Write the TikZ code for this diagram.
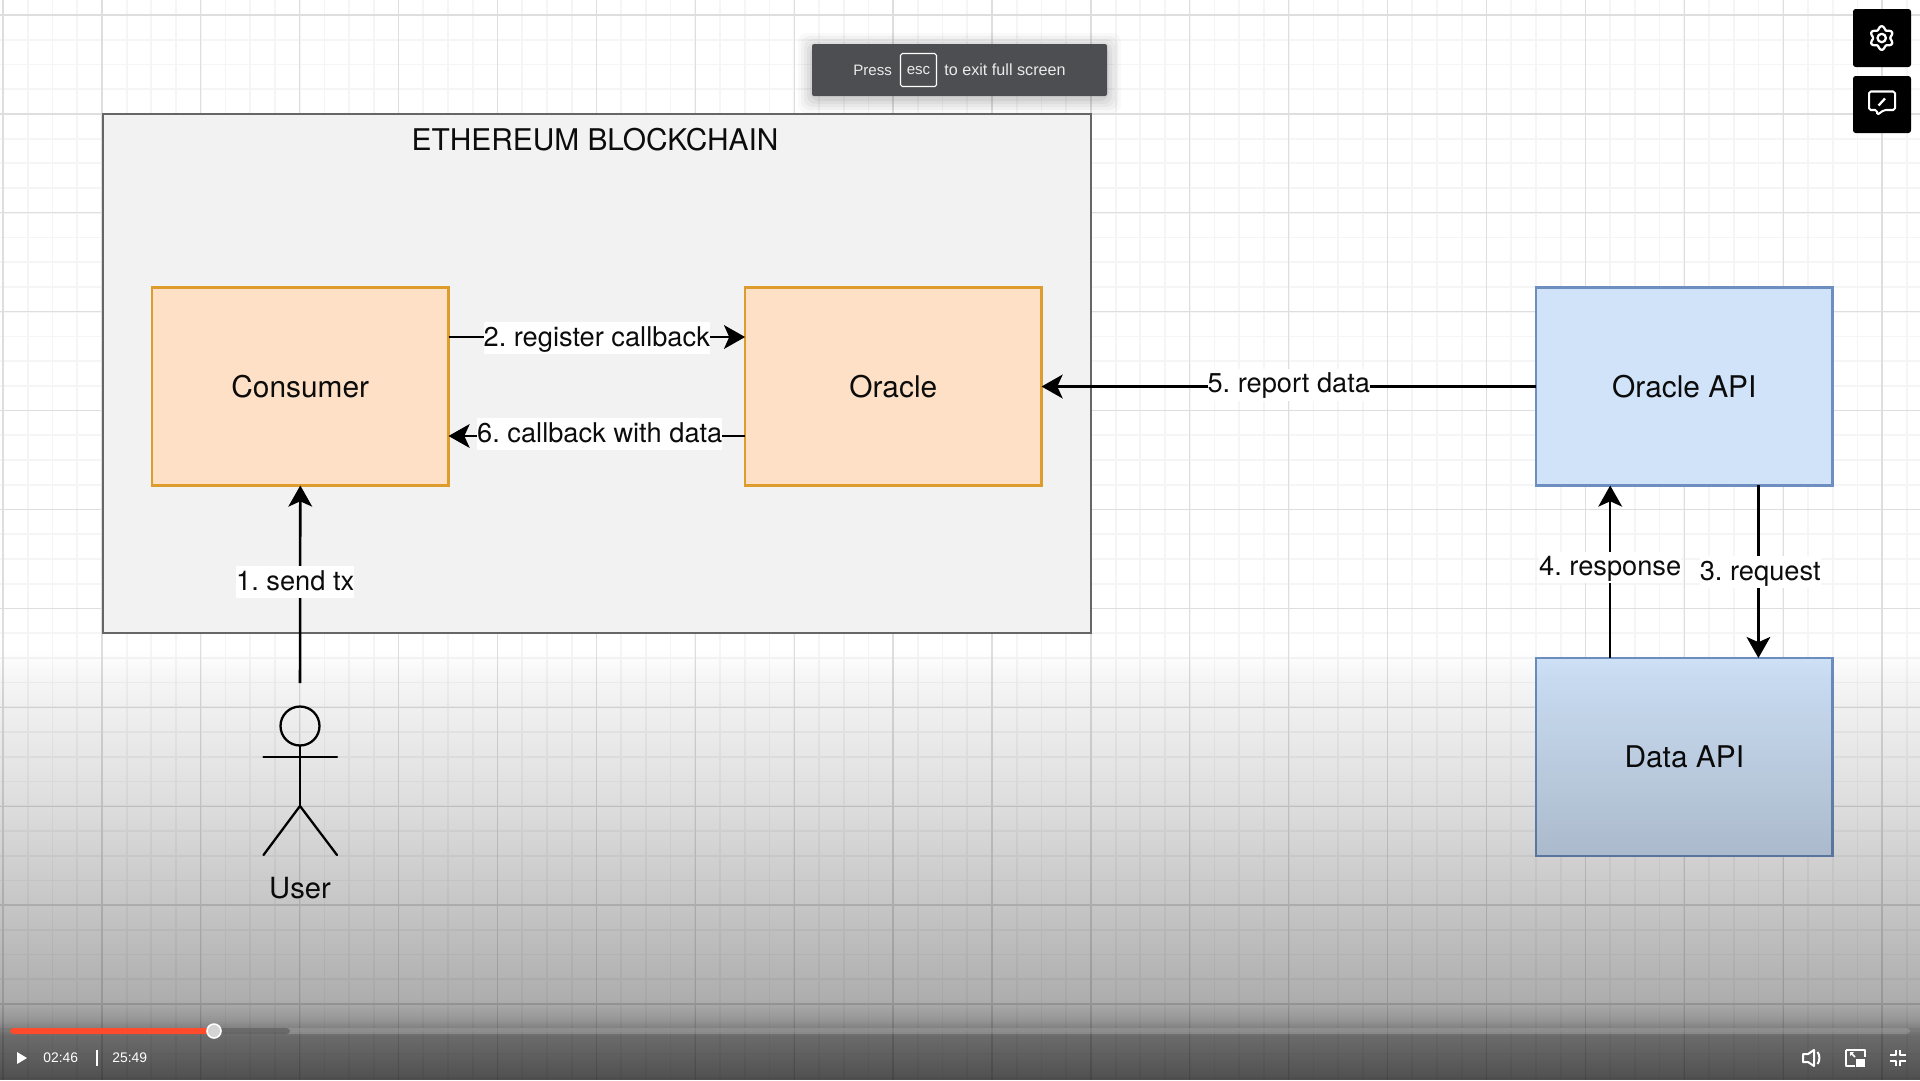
\documentclass[tikz,border=0pt]{standalone}
\usepackage{fontspec}
\setmainfont{TeX Gyre Heros}
\newfontfamily\uifont{Liberation Sans}
\usetikzlibrary{arrows.meta,calc}
\definecolor{gridminor}{HTML}{F5F5F5}
\definecolor{gridmajor}{HTML}{DEDEDE}
\definecolor{chainfill}{HTML}{F2F2F2}
\definecolor{chainline}{HTML}{666666}
\definecolor{orfill}{HTML}{FDE0C5}
\definecolor{orline}{HTML}{DD9C2C}
\definecolor{blfill}{HTML}{D0E3F9}
\definecolor{blline}{HTML}{6D8FC0}
\definecolor{toastfill}{HTML}{484A4D}
\definecolor{redbar}{HTML}{FF4A2B}
\definecolor{inktext}{HTML}{0C0C0C}
\frenchspacing
\tikzset{
  x=0.02cm,y=-0.02cm,
  box/.style={draw,line width=1.5pt,minimum width=5.93cm,minimum height=3.96cm,inner sep=0pt,outer sep=0pt,text=inktext,font=\fontsize{17}{20}\selectfont},
  boxtext/.style={inner sep=0pt,text=inktext,font=\fontsize{17}{20}\selectfont},
  orbox/.style={box,fill=orfill,draw=orline},
  blbox/.style={box,fill=blfill,draw=blline},
  conn/.style={line width=1.45pt,black,-{Stealth[length=12pt,width=13.5pt,inset=3pt]}},
  edgelabel/.style={fill=white,inner sep=0pt,text height=13.6pt,text depth=4.5pt,text=inktext,font=\fontsize{15.5}{18}\selectfont},
  stick/.style={line width=1.3pt,black,line cap=round},
  ctrl/.style={text=white,font=\uifont\fontsize{7.9}{9}\selectfont,inner sep=0pt},
  toasttext/.style={inner sep=0pt,text=white!92!black,font=\uifont\fontsize{8.6}{10}\selectfont},
  icon/.style={draw=white,line width=1.15pt,line join=round},
  iconbox/.style={fill=black,rounded corners=1.5pt},
}
\begin{document}
\begin{tikzpicture}
\useasboundingbox (0,0) rectangle (1920,1080);
\fill[white] (0,0) rectangle (1920,1080);
% minor grid
\foreach \i in {0,...,78}{
  \pgfmathsetmacro\gx{3+24.725*\i}
  \draw[gridminor,line width=1pt] (\gx,0) -- (\gx,1080);
}
\foreach \i in {0,...,44}{
  \pgfmathsetmacro\gy{15+24.725*\i}
  \draw[gridminor,line width=1pt] (0,\gy) -- (1920,\gy);
}
% major grid
\foreach \i in {0,...,19}{
  \pgfmathsetmacro\gx{3+98.9*\i}
  \draw[gridmajor,line width=.75pt] (\gx,0) -- (\gx,1080);
}
\foreach \i in {0,...,10}{
  \pgfmathsetmacro\gy{15+98.9*\i}
  \draw[gridmajor,line width=.75pt] (0,\gy) -- (1920,\gy);
}
% blockchain container
\node[draw=chainline,fill=chainfill,line width=1.5pt,minimum width=19.76cm,minimum height=10.38cm,inner sep=0pt,outer sep=0pt] (chain) at (597,373.5) {};
\node[boxtext] (chaintitle) at (595,140) {ETHEREUM BLOCKCHAIN};
% boxes
\node[orbox] (consumer) at (300.3,386.5) {Consumer};
\node[orbox] (oracle) at (893.3,386.5) {Oracle};
\node[blbox] (oracleapi) at (1684.3,386.5) {Oracle API};
\node[blbox] (dataapi) at (1684.3,757) {Data API};
% actor
\node[draw=black,line width=1.3pt,circle,minimum size=.78cm,inner sep=0pt,outer sep=0pt] (userhead) at (300,726) {};
\coordinate (usertop) at (300,683);
\coordinate (armsl) at (263.5,757);
\coordinate (armsr) at (337,757);
\coordinate (hip) at (300,806);
\coordinate (footl) at (263.5,855);
\coordinate (footr) at (337,855);
\draw[stick] (userhead.south) -- (hip);
\draw[stick] (armsl) -- (armsr);
\draw[stick] (footl) -- (hip) -- (footr);
\node[inner sep=0pt,text=inktext,font=\fontsize{16.6}{20}\selectfont] (userlabel) at (300,888.5) {User};
% connectors
\draw[conn] ($(consumer.north east)!.25!(consumer.south east)$) -- node[edgelabel,pos=.5,yshift=-.6pt] (l2) {2. register callback} ($(oracle.north west)!.25!(oracle.south west)$);
\draw[conn] ($(oracle.north west)!.75!(oracle.south west)$) -- node[edgelabel,pos=.49,yshift=1pt] (l6) {6. callback with data} ($(consumer.north east)!.75!(consumer.south east)$);
\draw[conn] (oracleapi.west) -- node[edgelabel,pos=.5,yshift=1pt] (l5) {5. report data} (oracle.east);
\draw[conn] (usertop) -- node[edgelabel,pos=.5,xshift=-2.8pt,yshift=1.1pt] (l1) {1. send tx} (consumer.south);
\draw[conn] ($(dataapi.north west)!.25!(dataapi.north east)$) -- node[edgelabel,pos=.5,yshift=2.4pt] (l4) {4. response} ($(oracleapi.south west)!.25!(oracleapi.south east)$);
\draw[conn] ($(oracleapi.south west)!.75!(oracleapi.south east)$) -- node[edgelabel,pos=.5,xshift=1pt,yshift=-.3pt] (l3) {3. request} ($(dataapi.north west)!.75!(dataapi.north east)$);
% video overlay gradient
\foreach \yy in {640,642,...,1078}{
  \pgfmathsetmacro\op{\yy<650?0:(\yy<680?(\yy-650)/30*.04:(\yy<800?.04+(\yy-680)/120*.09:(\yy<900?.13+(\yy-800)/100*.09:(\yy<1000?.22+(\yy-900)/100*.10:(\yy<1020?.32+(\yy-1000)/20*.10:(\yy<1035?.42+(\yy-1020)/15*.16:.58+(\yy-1035)/45*.11))))))}
  \fill[black,fill opacity=\op] (0,\yy) rectangle (1920,\yy+2);
}
% toast
\foreach \s/\o in {14/.025,11/.03,8/.035,5/.04,2/.05}{
  \fill[black,fill opacity=\o,rounded corners=5pt] (812-\s,44-\s+3) rectangle (1107+\s,96+\s+3);
}
\fill[toastfill,fill opacity=.97,rounded corners=1.2pt] (812,44) rectangle (1107,96);
\node[toasttext,anchor=base west] (tpress) at (853,75) {Press};
\node[toasttext,draw=white,line width=.6pt,rounded corners=1pt,minimum width=.72cm,minimum height=.66cm] (tesc) at (918.5,70) {esc};
\node[toasttext,anchor=base west,font=\uifont\fontsize{9.2}{10}\selectfont] (texit) at (944,75) {to exit full screen};
% side buttons
\fill[iconbox] (1853,9) rectangle (1911,67);
\fill[iconbox] (1853,76) rectangle (1911,133);
\draw[icon,line width=1.3pt,smooth,samples=72,domain=0:360,variable=\t] plot ({1881.7+(10.2+1.6*cos(6*\t))*cos(\t+30)},{38+(10.2+1.6*cos(6*\t))*sin(\t+30)}) -- cycle;
\draw[icon,line width=1.3pt] (1881.7,38) circle (4.2);
\draw[icon,rounded corners=1pt] (1869,91.5) -- (1895,91.5) -- (1895,110) -- (1884,110) -- (1877,115) -- (1877,110) -- (1869,110) -- cycle;
\draw[white,line width=1.3pt] (1878.5,105.5) -- (1885,98.5);
% progress bar
\fill[white,fill opacity=.16,rounded corners=2pt] (10,1028) rectangle (1910,1034);
\fill[black,fill opacity=.25,rounded corners=2pt] (10,1028) rectangle (290,1034);
\fill[redbar,rounded corners=2pt] (10,1028) rectangle (214,1034);
\fill[white!83!black,draw=white,line width=.9pt] (214,1031) circle (7);
% controls
\fill[white] (17,1052) -- (27,1058) -- (17,1064) -- cycle;
\node[ctrl,anchor=west] (tnow) at (43,1058) {02:46};
\fill[white] (96,1050) rectangle (98,1066);
\node[ctrl,anchor=west] (ttotal) at (112,1058) {25:49};
% speaker
\draw[icon] (1803,1054) -- (1808,1054) -- (1814,1050) -- (1814,1066) -- (1808,1062) -- (1803,1062) -- cycle;
\draw[icon] (1817.5,1052) .. controls (1820,1055) and (1820,1061) .. (1817.5,1064);
% picture in picture
\draw[icon] (1846,1050) -- (1864.5,1050) -- (1864.5,1057);
\draw[icon] (1855,1066) -- (1846,1066) -- (1846,1050);
\fill[white] (1856,1059) rectangle (1865,1067);
\draw[white,line width=1pt] (1851,1053) -- (1855,1057);
\fill[white] (1850,1052) -- (1850,1056) -- (1854,1052) -- cycle;
% fullscreen exit
\draw[icon] (1896,1050) -- (1896,1055) -- (1890,1055);
\draw[icon] (1900,1050) -- (1900,1055) -- (1906,1055);
\draw[icon] (1896,1066) -- (1896,1061) -- (1890,1061);
\draw[icon] (1900,1066) -- (1900,1061) -- (1906,1061);
\end{tikzpicture}
\end{document}
